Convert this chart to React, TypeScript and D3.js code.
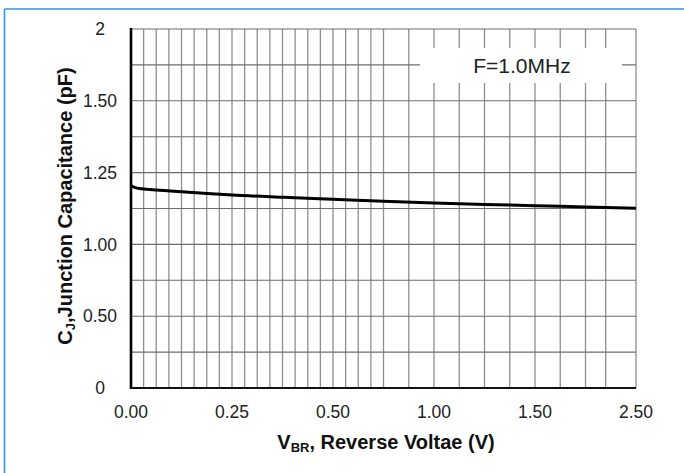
import { useEffect, useRef } from "react";
import * as d3 from "d3";

// axis labels (evenly spaced slots on the original chart, values are not linear)
const xTickLabels = ["0.00", "0.25", "0.50", "1.00", "1.50", "2.50"];
const xTickValues = [0, 0.25, 0.5, 1.0, 1.5, 2.5];
const yTickLabels = ["0", "0.50", "1.00", "1.25", "1.50", "2"];
const yTickValues = [0, 0.5, 1.0, 1.25, 1.5, 2.0];

// junction capacitance curve
const voltage = [0, 0.015, 0.047, 0.097, 0.171, 0.25, 0.377, 0.5, 0.75, 1.0, 1.25, 1.5, 2.0, 2.5];
const capacitance = [1.204, 1.196, 1.191, 1.186, 1.179, 1.172, 1.164, 1.157, 1.15, 1.144, 1.139, 1.135, 1.13, 1.126];

const legendText = "F=1.0MHz";

const W = 684;
const H = 473;
const FONT = "'Liberation Sans', Arial, Helvetica, sans-serif";

export default function App() {
  const ref = useRef<SVGSVGElement>(null);

  useEffect(() => {
    if (!ref.current) return;
    const svg = d3.select(ref.current);
    svg.selectAll("*").remove();

    const left = 131, right = 636, top = 29, bottom = 388;

    // slot position scales
    const xSlot = d3.scaleLinear().domain([0, 5]).range([left, right]);
    const ySlot = d3.scaleLinear().domain([0, 5]).range([bottom, top]);
    // value -> slot (piecewise)
    const xVal = d3.scaleLinear().domain(xTickValues).range(d3.range(6));
    const yVal = d3.scaleLinear().domain(yTickValues).range(d3.range(6));
    const x = (v: number) => xSlot(xVal(v));
    const y = (v: number) => ySlot(yVal(v));

    svg.append("rect").attr("width", W).attr("height", H).attr("fill", "#fff");

    // blue frame
    const frame = "#2b95f2";
    svg.append("line").attr("x1", 4.5).attr("x2", 4.5).attr("y1", 9).attr("y2", H)
      .attr("stroke", frame).attr("stroke-width", 1.6);
    svg.append("line").attr("x1", 4.5).attr("x2", W).attr("y1", 9).attr("y2", 9)
      .attr("stroke", frame).attr("stroke-width", 1.6);

    // vertical grid lines (irregular, as in the source chart)
    const vGrid = [
      ...d3.range(0, 2.5, 0.125),
      ...d3.range(2.5, 4.5, 0.25),
      4.5, 4.7, 5,
    ];
    svg.append("g").selectAll("line").data(vGrid).enter().append("line")
      .attr("x1", d => xSlot(d)).attr("x2", d => xSlot(d))
      .attr("y1", top).attr("y2", bottom)
      .attr("stroke", "#8f8f8f").attr("stroke-width", 1.3);

    // horizontal grid lines
    const hGrid = d3.range(0, 5.01, 0.5);
    svg.append("g").selectAll("line").data(hGrid).enter().append("line")
      .attr("x1", left).attr("x2", right)
      .attr("y1", d => ySlot(d)).attr("y2", d => ySlot(d))
      .attr("stroke", "#6e6e6e").attr("stroke-width", 1.1);

    // legend box covering the grid
    svg.append("rect").attr("x", 420).attr("y", 48).attr("width", 202).attr("height", 35)
      .attr("fill", "#fff");
    svg.append("text").attr("x", 522).attr("y", 73).attr("text-anchor", "middle")
      .attr("font-family", FONT).attr("font-size", 21).attr("fill", "#222")
      .text(legendText);

    // axes
    svg.append("line").attr("x1", left).attr("x2", left).attr("y1", top - 1).attr("y2", bottom + 1)
      .attr("stroke", "#000").attr("stroke-width", 2.6);
    svg.append("line").attr("x1", left).attr("x2", right).attr("y1", bottom).attr("y2", bottom)
      .attr("stroke", "#111").attr("stroke-width", 2);

    // curve
    const pts = voltage.map((v, i) => [v, capacitance[i]] as [number, number]);
    const line = d3.line<[number, number]>()
      .x(d => x(d[0])).y(d => y(d[1]))
      .curve(d3.curveMonotoneX);
    svg.append("path").datum(pts).attr("d", line)
      .attr("fill", "none").attr("stroke", "#000").attr("stroke-width", 3);

    // tick labels
    svg.append("g").selectAll("text").data(xTickLabels).enter().append("text")
      .attr("x", (_, i) => xSlot(i)).attr("y", 418)
      .attr("text-anchor", "middle").attr("font-family", FONT).attr("font-size", 17.5)
      .attr("fill", "#222").text(d => d);
    svg.append("g").selectAll("text").data(yTickLabels).enter().append("text")
      .attr("x", 100).attr("y", (_, i) => ySlot(i)).attr("dy", "0.35em")
      .attr("text-anchor", "middle").attr("font-family", FONT).attr("font-size", 17.5)
      .attr("fill", "#222").text(d => d);

    // x title
    const xt = svg.append("text").attr("x", 386).attr("y", 449).attr("text-anchor", "middle")
      .attr("font-family", FONT).attr("font-size", 20).attr("font-weight", "bold").attr("fill", "#111");
    xt.append("tspan").text("V");
    xt.append("tspan").attr("font-size", 13).attr("dy", 3).text("BR");
    xt.append("tspan").attr("dy", -3).text(", Reverse Voltae (V)");

    // y title
    const yt = svg.append("text").attr("transform", `translate(72,206) rotate(-90)`)
      .attr("text-anchor", "middle")
      .attr("font-family", FONT).attr("font-size", 20).attr("font-weight", "bold").attr("fill", "#111");
    yt.append("tspan").text("C");
    yt.append("tspan").attr("font-size", 13).attr("dy", 3).text("J");
    yt.append("tspan").attr("dy", -3).text(",Junction Capacitance (pF)");
  }, []);

  return (
    <svg ref={ref} width={W} height={H}
      style={{ position: "absolute", left: 0, top: 0, display: "block" }} />
  );
}
